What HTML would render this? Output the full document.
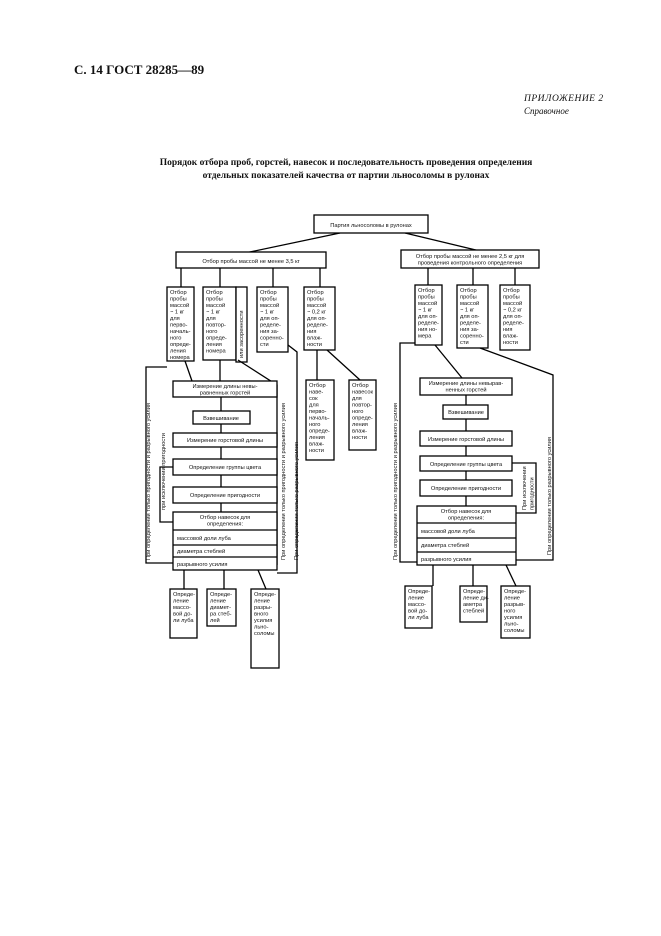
<!DOCTYPE html>
<html><head><meta charset="utf-8"><style>
body{margin:0;background:#fff}
svg{display:block}
.s{font-family:"Liberation Sans",sans-serif;font-size:5.7px;fill:#111}
.h{font-family:"Liberation Serif",serif;fill:#111}
rect{fill:#fff;stroke:#000;stroke-width:1.3}
line,polyline{stroke:#000;stroke-width:1.3;fill:none}
</style></head><body>
<svg width="661" height="936" viewBox="0 0 661 936" xmlns="http://www.w3.org/2000/svg">
<text class="h" x="74" y="74" font-size="13" font-weight="bold">С. 14 ГОСТ 28285—89</text>
<text class="h" x="524" y="101" font-size="9.5" font-style="italic" letter-spacing="0.5">ПРИЛОЖЕНИЕ 2</text>
<text class="h" x="524" y="114" font-size="9" font-style="italic">Справочное</text>
<text class="h" x="346" y="165" font-size="9.5" font-weight="bold" text-anchor="middle">Порядок отбора проб, горстей, навесок и последовательность проведения определения</text>
<text class="h" x="346" y="178" font-size="9.5" font-weight="bold" text-anchor="middle">отдельных показателей качества от партии льносоломы в рулонах</text>

<!-- top -->
<line x1="340" y1="233" x2="245" y2="253"/>
<line x1="405" y1="233" x2="480" y2="251"/>
<rect x="314" y="215" width="114" height="18"/>
<text class="s" x="371" y="227" text-anchor="middle">Партия льносоломы в рулонах</text>

<!-- LEFT -->
<rect x="176" y="252" width="150" height="16"/>
<text class="s" x="251" y="263" text-anchor="middle">Отбор пробы массой не менее 3,5 кг</text>
<line x1="181" y1="268" x2="181" y2="287"/><line x1="220" y1="268" x2="220" y2="287"/>
<line x1="273" y1="268" x2="273" y2="287"/><line x1="320" y1="268" x2="320" y2="287"/>

<rect x="167" y="287" width="27" height="74"/>
<text class="s" x="170" y="294"><tspan x="170">Отбор</tspan><tspan x="170" dy="6.5">пробы</tspan><tspan x="170" dy="6.5">массой</tspan><tspan x="170" dy="6.5">~ 1 кг</tspan><tspan x="170" dy="6.5">для</tspan><tspan x="170" dy="6.5">перво-</tspan><tspan x="170" dy="6.5">началь-</tspan><tspan x="170" dy="6.5">ного</tspan><tspan x="170" dy="6.5">опреде-</tspan><tspan x="170" dy="6.5">ления</tspan><tspan x="170" dy="6.5">номера</tspan></text>
<rect x="203" y="287" width="33" height="73"/>
<rect x="236" y="287" width="11" height="75"/>
<text class="s" transform="translate(243,358) rotate(-90)">или засоренности</text>
<text class="s" x="206" y="294"><tspan x="206">Отбор</tspan><tspan x="206" dy="6.5">пробы</tspan><tspan x="206" dy="6.5">массой</tspan><tspan x="206" dy="6.5">~ 1 кг</tspan><tspan x="206" dy="6.5">для</tspan><tspan x="206" dy="6.5">повтор-</tspan><tspan x="206" dy="6.5">ного</tspan><tspan x="206" dy="6.5">опреде-</tspan><tspan x="206" dy="6.5">ления</tspan><tspan x="206" dy="6.5">номера</tspan></text>
<rect x="257" y="287" width="31" height="65"/>
<text class="s" x="260" y="294"><tspan x="260">Отбор</tspan><tspan x="260" dy="6.5">пробы</tspan><tspan x="260" dy="6.5">массой</tspan><tspan x="260" dy="6.5">~ 1 кг</tspan><tspan x="260" dy="6.5">для оп-</tspan><tspan x="260" dy="6.5">ределе-</tspan><tspan x="260" dy="6.5">ния за-</tspan><tspan x="260" dy="6.5">соренно-</tspan><tspan x="260" dy="6.5">сти</tspan></text>
<rect x="304" y="287" width="31" height="63"/>
<text class="s" x="307" y="294"><tspan x="307">Отбор</tspan><tspan x="307" dy="6.5">пробы</tspan><tspan x="307" dy="6.5">массой</tspan><tspan x="307" dy="6.5">~ 0,2 кг</tspan><tspan x="307" dy="6.5">для оп-</tspan><tspan x="307" dy="6.5">ределе-</tspan><tspan x="307" dy="6.5">ния</tspan><tspan x="307" dy="6.5">влаж-</tspan><tspan x="307" dy="6.5">ности</tspan></text>

<line x1="317" y1="350" x2="317" y2="380"/>
<line x1="327" y1="350" x2="360" y2="380"/>
<rect x="306" y="380" width="28" height="80"/>
<text class="s" x="309" y="387"><tspan x="309">Отбор</tspan><tspan x="309" dy="6.5">наве-</tspan><tspan x="309" dy="6.5">сок</tspan><tspan x="309" dy="6.5">для</tspan><tspan x="309" dy="6.5">перво-</tspan><tspan x="309" dy="6.5">началь-</tspan><tspan x="309" dy="6.5">ного</tspan><tspan x="309" dy="6.5">опреде-</tspan><tspan x="309" dy="6.5">ления</tspan><tspan x="309" dy="6.5">влаж-</tspan><tspan x="309" dy="6.5">ности</tspan></text>
<rect x="349" y="380" width="27" height="70"/>
<text class="s" x="352" y="387"><tspan x="352">Отбор</tspan><tspan x="352" dy="6.5">навесок</tspan><tspan x="352" dy="6.5">для</tspan><tspan x="352" dy="6.5">повтор-</tspan><tspan x="352" dy="6.5">ного</tspan><tspan x="352" dy="6.5">опреде-</tspan><tspan x="352" dy="6.5">ления</tspan><tspan x="352" dy="6.5">влаж-</tspan><tspan x="352" dy="6.5">ности</tspan></text>

<!-- left verticals -->
<polyline points="167,367 146,367 146,563 173,563"/>
<text class="s" transform="translate(150,560) rotate(-90)">При определении только пригодности и разрывного усилия</text>
<polyline points="173,467 160,467 160,522 173,522"/>
<text class="s" transform="translate(165,510) rotate(-90)">при исключении пригодности</text>
<line x1="185" y1="361" x2="192" y2="381"/>
<line x1="220" y1="360" x2="220" y2="381"/>
<polyline points="238,360 277,385 277,565"/>
<polyline points="288,345 297,352 297,573 277,573"/>
<text class="s" transform="translate(285,560) rotate(-90)">При определении только пригодности и разрывного усилия</text>
<text class="s" transform="translate(298,560) rotate(-90)">При определении только разрывного усилия</text>

<rect x="173" y="381" width="104" height="16"/>
<text class="s" x="225" y="388" text-anchor="middle"><tspan x="225">Измерение длины невы-</tspan><tspan x="225" dy="6.5">равненных горстей</tspan></text>
<line x1="221" y1="397" x2="221" y2="411"/>
<rect x="193" y="411" width="57" height="13"/>
<text class="s" x="221" y="420" text-anchor="middle">Взвешивание</text>
<line x1="221" y1="424" x2="221" y2="433"/>
<rect x="173" y="433" width="104" height="14"/>
<text class="s" x="225" y="442" text-anchor="middle">Измерение горстовой длины</text>
<line x1="221" y1="447" x2="221" y2="459"/>
<rect x="173" y="459" width="104" height="16"/>
<text class="s" x="225" y="469" text-anchor="middle">Определение группы цвета</text>
<line x1="221" y1="475" x2="221" y2="487"/>
<rect x="173" y="487" width="104" height="16"/>
<text class="s" x="225" y="497" text-anchor="middle">Определение пригодности</text>
<line x1="221" y1="503" x2="221" y2="512"/>
<rect x="173" y="512" width="104" height="58"/>
<line x1="173" y1="530" x2="277" y2="530"/><line x1="173" y1="545" x2="277" y2="545"/><line x1="173" y1="557" x2="277" y2="557"/>
<text class="s" x="225" y="519" text-anchor="middle"><tspan x="225">Отбор навесок для</tspan><tspan x="225" dy="6.5">определения:</tspan></text>
<text class="s" x="177" y="540">массовой доли луба</text>
<text class="s" x="177" y="553">диаметра стеблей</text>
<text class="s" x="177" y="566">разрывного усилия</text>
<line x1="184" y1="570" x2="184" y2="589"/><line x1="224" y1="570" x2="224" y2="589"/><line x1="258" y1="570" x2="266" y2="589"/>
<rect x="170" y="589" width="27" height="49"/>
<text class="s" x="173" y="596"><tspan x="173">Опреде-</tspan><tspan x="173" dy="6.5">ление</tspan><tspan x="173" dy="6.5">массо-</tspan><tspan x="173" dy="6.5">вой до-</tspan><tspan x="173" dy="6.5">ли луба</tspan></text>
<rect x="207" y="589" width="29" height="37"/>
<text class="s" x="210" y="596"><tspan x="210">Опреде-</tspan><tspan x="210" dy="6.5">ление</tspan><tspan x="210" dy="6.5">диамет-</tspan><tspan x="210" dy="6.5">ра стеб-</tspan><tspan x="210" dy="6.5">лей</tspan></text>
<rect x="251" y="589" width="28" height="79"/>
<text class="s" x="254" y="596"><tspan x="254">Опреде-</tspan><tspan x="254" dy="6.5">ление</tspan><tspan x="254" dy="6.5">разры-</tspan><tspan x="254" dy="6.5">вного</tspan><tspan x="254" dy="6.5">усилия</tspan><tspan x="254" dy="6.5">льно-</tspan><tspan x="254" dy="6.5">соломы</tspan></text>

<!-- RIGHT -->
<rect x="401" y="250" width="138" height="18"/>
<text class="s" x="470" y="258" text-anchor="middle"><tspan x="470">Отбор пробы массой не менее 2,5 кг для</tspan><tspan x="470" dy="6.5">проведения контрольного определения</tspan></text>
<line x1="428" y1="268" x2="428" y2="285"/><line x1="473" y1="268" x2="473" y2="285"/><line x1="515" y1="268" x2="515" y2="285"/>
<rect x="415" y="285" width="27" height="60"/>
<text class="s" x="418" y="292"><tspan x="418">Отбор</tspan><tspan x="418" dy="6.5">пробы</tspan><tspan x="418" dy="6.5">массой</tspan><tspan x="418" dy="6.5">~ 1 кг</tspan><tspan x="418" dy="6.5">для оп-</tspan><tspan x="418" dy="6.5">ределе-</tspan><tspan x="418" dy="6.5">ния но-</tspan><tspan x="418" dy="6.5">мера</tspan></text>
<rect x="457" y="285" width="31" height="63"/>
<text class="s" x="460" y="292"><tspan x="460">Отбор</tspan><tspan x="460" dy="6.5">пробы</tspan><tspan x="460" dy="6.5">массой</tspan><tspan x="460" dy="6.5">~ 1 кг</tspan><tspan x="460" dy="6.5">для оп-</tspan><tspan x="460" dy="6.5">ределе-</tspan><tspan x="460" dy="6.5">ния за-</tspan><tspan x="460" dy="6.5">соренно-</tspan><tspan x="460" dy="6.5">сти</tspan></text>
<rect x="500" y="285" width="30" height="65"/>
<text class="s" x="503" y="292"><tspan x="503">Отбор</tspan><tspan x="503" dy="6.5">пробы</tspan><tspan x="503" dy="6.5">массой</tspan><tspan x="503" dy="6.5">~ 0,2 кг</tspan><tspan x="503" dy="6.5">для оп-</tspan><tspan x="503" dy="6.5">ределе-</tspan><tspan x="503" dy="6.5">ния</tspan><tspan x="503" dy="6.5">влаж-</tspan><tspan x="503" dy="6.5">ности</tspan></text>

<polyline points="415,343 400,343 400,562 417,562"/>
<text class="s" transform="translate(397,560) rotate(-90)">При определении только пригодности и разрывного усилия</text>
<line x1="435" y1="345" x2="462" y2="378"/>
<polyline points="480,348 553,375 553,560 516,560"/>
<text class="s" transform="translate(551,555) rotate(-90)">При определении только разрывного усилия</text>
<polyline points="512,463 536,463 536,513 516,513"/>
<text class="s" transform="translate(526,510) rotate(-90)"><tspan>При исключении</tspan><tspan x="0" dy="7.5">пригодности</tspan></text>

<rect x="420" y="378" width="92" height="17"/>
<text class="s" x="466" y="385" text-anchor="middle"><tspan x="466">Измерение длины невырав-</tspan><tspan x="466" dy="6.5">ненных горстей</tspan></text>
<line x1="466" y1="395" x2="466" y2="405"/>
<rect x="443" y="405" width="45" height="14"/>
<text class="s" x="466" y="414" text-anchor="middle">Взвешивание</text>
<line x1="466" y1="419" x2="466" y2="431"/>
<rect x="420" y="431" width="92" height="15"/>
<text class="s" x="466" y="441" text-anchor="middle">Измерение горстовой длины</text>
<line x1="466" y1="446" x2="466" y2="456"/>
<rect x="420" y="456" width="92" height="15"/>
<text class="s" x="466" y="466" text-anchor="middle">Определение группы цвета</text>
<line x1="466" y1="471" x2="466" y2="480"/>
<rect x="420" y="480" width="92" height="16"/>
<text class="s" x="466" y="490" text-anchor="middle">Определение пригодности</text>
<line x1="466" y1="496" x2="466" y2="506"/>
<rect x="417" y="506" width="99" height="59"/>
<line x1="417" y1="523" x2="516" y2="523"/><line x1="417" y1="538" x2="516" y2="538"/><line x1="417" y1="552" x2="516" y2="552"/>
<text class="s" x="466" y="513" text-anchor="middle"><tspan x="466">Отбор навесок для</tspan><tspan x="466" dy="6.5">определения:</tspan></text>
<text class="s" x="421" y="533">массовой доли луба</text>
<text class="s" x="421" y="547">диаметра стеблей</text>
<text class="s" x="421" y="561">разрывного усилия</text>
<line x1="433" y1="565" x2="433" y2="586"/><line x1="473" y1="565" x2="473" y2="586"/><line x1="506" y1="565" x2="516" y2="586"/>
<rect x="405" y="586" width="27" height="42"/>
<text class="s" x="408" y="593"><tspan x="408">Опреде-</tspan><tspan x="408" dy="6.5">ление</tspan><tspan x="408" dy="6.5">массо-</tspan><tspan x="408" dy="6.5">вой до-</tspan><tspan x="408" dy="6.5">ли луба</tspan></text>
<rect x="460" y="586" width="27" height="36"/>
<text class="s" x="463" y="593"><tspan x="463">Опреде-</tspan><tspan x="463" dy="6.5">ление ди-</tspan><tspan x="463" dy="6.5">аметра</tspan><tspan x="463" dy="6.5">стеблей</tspan></text>
<rect x="501" y="586" width="29" height="52"/>
<text class="s" x="504" y="593"><tspan x="504">Опреде-</tspan><tspan x="504" dy="6.5">ление</tspan><tspan x="504" dy="6.5">разрыв-</tspan><tspan x="504" dy="6.5">ного</tspan><tspan x="504" dy="6.5">усилия</tspan><tspan x="504" dy="6.5">льно-</tspan><tspan x="504" dy="6.5">соломы</tspan></text>
</svg>
</body></html>
